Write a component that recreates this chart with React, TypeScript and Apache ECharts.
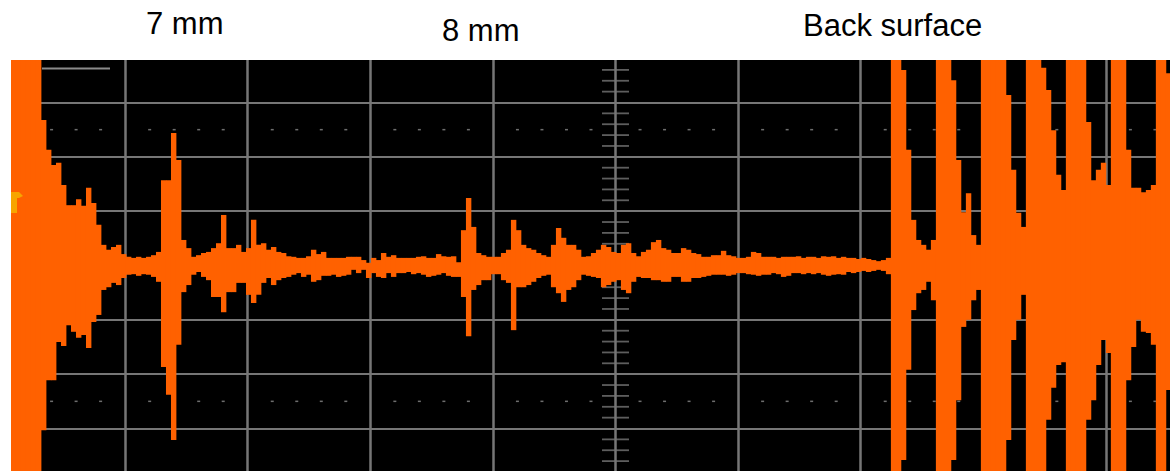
import React, { useEffect, useRef } from "react";
import * as echarts from "echarts";

// Echo labels
const echoLabels = ["7 mm", "8 mm", "Back surface"];

// Time base (divisions): first sample start and sample width
const T0 = -4.931;
const DT = 0.04078;

// Peak-detect envelope, amplitude in vertical divisions (one column per sample)
const peakHigh = [
  3.9, 3.9, 3.9, 3.9, 3.9, 3.9, 2.68, 2.13, 1.85, 1.89,
  1.48, 1.11, 1.11, 1.22, 1.10, 1.43, 1.15, 0.75, 0.38, 0.29,
  0.34, 0.38, 0.21, 0.16, 0.14, 0.16, 0.14, 0.16, 0.19, 0.25,
  1.57, 1.57, 2.44, 1.94, 0.47, 0.32, 0.16, 0.19, 0.23, 0.25,
  0.32, 0.41, 0.93, 0.32, 0.32, 0.38, 0.25, 0.32, 0.84, 0.38,
  0.41, 0.29, 0.34, 0.25, 0.23, 0.17, 0.16, 0.14, 0.14, 0.17,
  0.29, 0.21, 0.25, 0.14, 0.14, 0.14, 0.14, 0.16, 0.16, 0.16,
  0.10, 0.05, 0.14, 0.10, 0.23, 0.16, 0.19, 0.14, 0.14, 0.14,
  0.14, 0.16, 0.17, 0.14, 0.14, 0.21, 0.17, 0.16, 0.17, 0.06,
  0.65, 1.24, 0.71, 0.23, 0.19, 0.16, 0.16, 0.16, 0.23, 0.29,
  0.84, 0.65, 0.38, 0.32, 0.29, 0.23, 0.19, 0.16, 0.38, 0.69,
  0.51, 0.38, 0.38, 0.29, 0.16, 0.17, 0.23, 0.29, 0.38, 0.34,
  0.25, 0.23, 0.38, 0.41, 0.23, 0.17, 0.25, 0.29, 0.43, 0.47,
  0.32, 0.29, 0.23, 0.23, 0.32, 0.29, 0.23, 0.21, 0.16, 0.16,
  0.19, 0.19, 0.27, 0.19, 0.17, 0.14, 0.14, 0.16, 0.25, 0.23,
  0.16, 0.16, 0.16, 0.14, 0.16, 0.16, 0.16, 0.17, 0.14, 0.16,
  0.16, 0.14, 0.17, 0.16, 0.17, 0.14, 0.16, 0.14, 0.14, 0.12,
  0.14, 0.12, 0.10, 0.08, 0.10, 0.14, 3.9, 3.9, 3.60, 2.13,
  0.84, 0.47, 0.38, 0.29, 0.47, 3.9, 3.9, 3.9, 3.41, 1.94,
  0.98, 1.33, 0.56, 0.38, 3.9, 3.9, 3.9, 3.9, 3.9, 3.14,
  1.76, 0.97, 0.71, 3.9, 3.9, 3.9, 3.64, 3.23, 2.49, 1.67,
  1.39, 3.9, 3.9, 3.9, 3.9, 2.64, 1.57, 1.76, 1.89, 1.48,
  3.9, 3.9, 3.9, 2.13, 1.43, 1.43, 1.35, 1.39, 1.48, 3.9,
  3.9, 3.54,
];

const peakLow = [
  -3.9, -3.9, -3.9, -3.9, -3.9, -3.9, -3.03, -2.11, -2.11, -1.41,
  -1.48, -1.10, -1.22, -1.33, -1.28, -1.52, -1.04, -0.91, -0.45, -0.40,
  -0.32, -0.36, -0.23, -0.17, -0.16, -0.19, -0.16, -0.17, -0.21, -0.30,
  -1.87, -2.38, -3.21, -1.46, -0.49, -0.36, -0.17, -0.12, -0.21, -0.27,
  -0.58, -0.58, -0.86, -0.49, -0.49, -0.32, -0.32, -0.54, -0.69, -0.54,
  -0.32, -0.23, -0.36, -0.27, -0.23, -0.21, -0.17, -0.14, -0.21, -0.17,
  -0.30, -0.27, -0.19, -0.19, -0.17, -0.21, -0.19, -0.17, -0.08, -0.14,
  -0.08, -0.23, -0.14, -0.21, -0.23, -0.14, -0.21, -0.14, -0.14, -0.12,
  -0.16, -0.14, -0.17, -0.21, -0.19, -0.17, -0.14, -0.19, -0.21, -0.21,
  -0.58, -1.30, -0.45, -0.36, -0.27, -0.27, -0.16, -0.16, -0.27, -0.32,
  -1.19, -0.40, -0.40, -0.36, -0.30, -0.23, -0.19, -0.17, -0.40, -0.51,
  -0.67, -0.45, -0.40, -0.27, -0.17, -0.19, -0.21, -0.23, -0.40, -0.36,
  -0.30, -0.27, -0.45, -0.51, -0.30, -0.21, -0.23, -0.23, -0.27, -0.27,
  -0.30, -0.30, -0.21, -0.21, -0.30, -0.30, -0.23, -0.23, -0.21, -0.19,
  -0.17, -0.17, -0.17, -0.19, -0.17, -0.14, -0.14, -0.16, -0.17, -0.19,
  -0.17, -0.17, -0.14, -0.16, -0.21, -0.19, -0.14, -0.14, -0.16, -0.14,
  -0.16, -0.14, -0.17, -0.19, -0.17, -0.16, -0.17, -0.12, -0.14, -0.12,
  -0.10, -0.12, -0.10, -0.08, -0.10, -0.16, -3.9, -3.9, -3.58, -1.92,
  -0.82, -0.51, -0.45, -0.30, -0.64, -3.9, -3.9, -3.9, -3.58, -2.48,
  -1.13, -1.00, -0.64, -0.45, -3.9, -3.9, -3.9, -3.9, -3.9, -3.21,
  -1.37, -1.00, -0.54, -3.9, -3.9, -3.9, -3.9, -2.84, -2.25, -1.83,
  -1.78, -3.9, -3.9, -3.9, -3.9, -2.84, -2.48, -1.83, -1.37, -1.61,
  -3.9, -3.9, -3.9, -2.11, -1.50, -1.00, -1.22, -1.24, -1.46, -3.9,
  -3.9, -2.29,
];

// Graticule (divisions)
const verticalDivs = [-4, -3, -2, -1, 0, 1, 2, 3, 4];
const horizontalDivs = [-3, -2, -1, 0, 1, 2, 3];
const X_MIN = -4.931;
const X_MAX = 4.523;
const Y_MIN = -3.782;
const Y_MAX = 3.782;

const ORANGE = "#ff6100";
const GRID_GRAY = "#767676";

export default function App() {
  const ref = useRef<HTMLDivElement>(null);

  useEffect(() => {
    if (!ref.current) return;
    const chart = echarts.init(ref.current, null, { renderer: "svg" });

    const wave = peakHigh.map((h, i) => [T0 + i * DT, T0 + (i + 1) * DT, peakLow[i], h]);

    const centerTicks: number[][] = [];
    for (let k = -18; k <= 18; k++) if (k % 5 !== 0) centerTicks.push([0, k * 0.2]);
    const dots: number[][] = [];
    for (let k = -24; k <= 22; k++) {
      if (k % 5 !== 0) {
        dots.push([k * 0.2, 2.5]);
        dots.push([k * 0.2, -2.5]);
      }
    }

    const font = "31px 'Liberation Sans', Arial, sans-serif";

    chart.setOption({
      animation: false,
      backgroundColor: "#ffffff",
      grid: {
        left: 11,
        right: 0,
        top: 60,
        bottom: 0,
        show: true,
        backgroundColor: "#000000",
        borderWidth: 0,
      },
      xAxis: { type: "value", min: X_MIN, max: X_MAX, show: false },
      yAxis: { type: "value", min: Y_MIN, max: Y_MAX, show: false },
      series: [
        {
          type: "scatter",
          z: 1,
          silent: true,
          data: centerTicks,
          symbol: "rect",
          symbolSize: [27, 1.8],
          itemStyle: { color: GRID_GRAY },
          markLine: {
            z: 0,
            silent: true,
            symbol: ["none", "none"],
            label: { show: false },
            emphasis: { disabled: true },
            lineStyle: { color: GRID_GRAY, type: "solid", width: 2 },
            data: [
              ...verticalDivs.map((v) => ({ xAxis: v, lineStyle: { color: GRID_GRAY, width: 2.5, type: "solid" } })),
              ...horizontalDivs.map((v) => ({ yAxis: v, lineStyle: { color: GRID_GRAY, width: 2, type: "solid" } })),
            ],
          },
        },
        {
          type: "scatter",
          z: 1,
          silent: true,
          data: dots,
          symbol: "rect",
          symbolSize: [3, 1.5],
          itemStyle: { color: "#8a8a8a" },
        },
        {
          type: "custom",
          z: 3,
          silent: true,
          clip: true,
          data: wave,
          encode: { x: [0, 1], y: [2, 3] },
          renderItem: (params: any, api: any) => {
            const p0 = api.coord([api.value(0), api.value(3)]);
            const p1 = api.coord([api.value(1), api.value(2)]);
            return {
              type: "rect",
              shape: { x: p0[0], y: p0[1], width: p1[0] - p0[0] + 0.4, height: p1[1] - p0[1] },
              style: { fill: ORANGE },
            };
          },
        },
      ],
      graphic: [
        {
          type: "polygon",
          z: 100,
          silent: true,
          shape: { points: [[11, 192], [19, 192], [23, 196], [19, 198], [17, 198], [17, 213], [11, 213]] },
          style: { fill: "#f7a500" },
        },
        {
          type: "line",
          z: 100,
          silent: true,
          shape: { x1: 42, y1: 68.5, x2: 110, y2: 68.5 },
          style: { stroke: "#8a8a8a", lineWidth: 2 },
        },
        {
          type: "text",
          z: 100,
          x: 146,
          y: 23.6,
          style: { text: echoLabels[0], font, fill: "#000", textAlign: "left", textVerticalAlign: "middle" },
        },
        {
          type: "text",
          z: 100,
          x: 442,
          y: 30,
          style: { text: echoLabels[1], font, fill: "#000", textAlign: "left", textVerticalAlign: "middle" },
        },
        {
          type: "text",
          z: 100,
          x: 803,
          y: 25.3,
          style: { text: echoLabels[2], font, fill: "#000", textAlign: "left", textVerticalAlign: "middle" },
        },
      ],
    });

    return () => chart.dispose();
  }, []);

  return <div ref={ref} style={{ position: "absolute", left: 0, top: 0, width: 1170, height: 471 }} />;
}
